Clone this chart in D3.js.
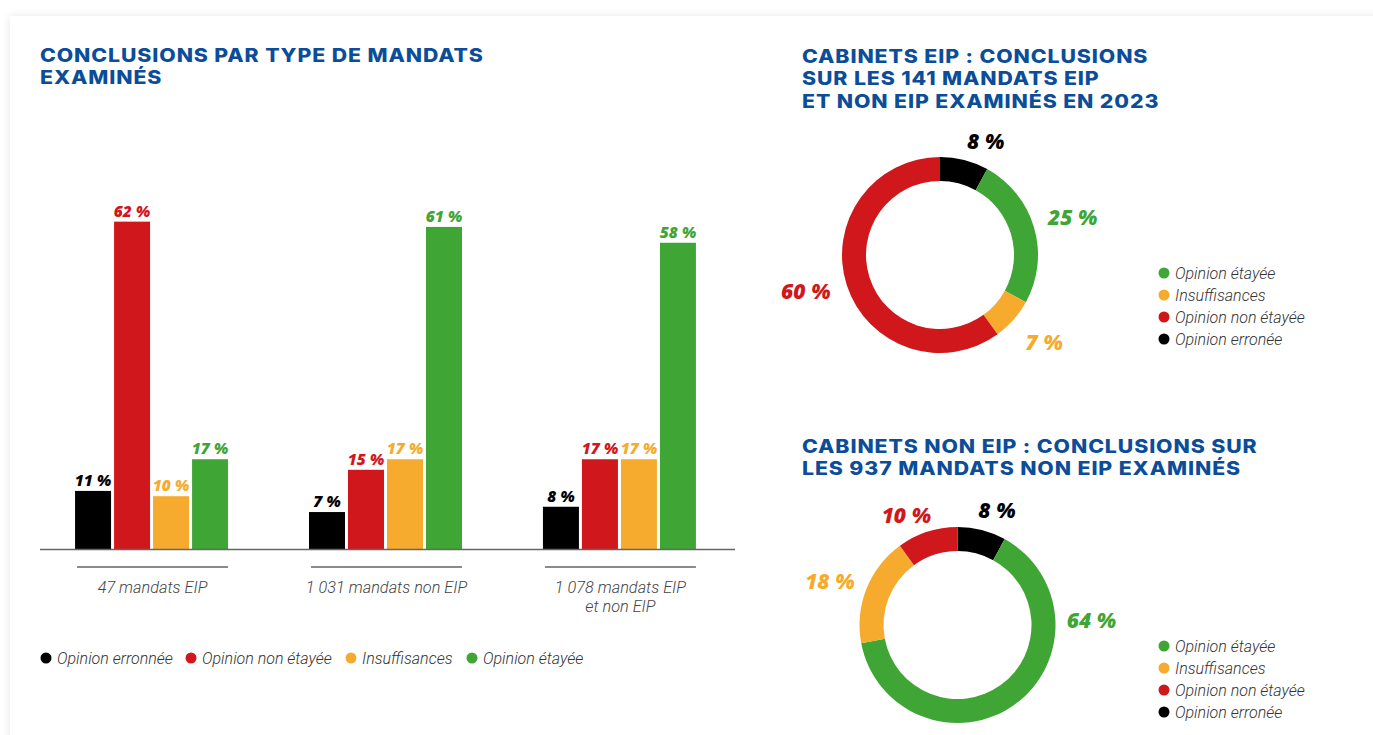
<!DOCTYPE html>
<html lang="fr">
<head>
<meta charset="utf-8">
<script src="https://cdn.jsdelivr.net/npm/d3@7"></script>
<style>
  html, body { margin: 0; padding: 0; background: #ffffff; overflow: hidden; }
  #card {
    position: absolute; left: 10px; top: 16px; width: 1400px; height: 760px;
    background: #fff; box-shadow: 0 0 9px rgba(0,0,0,0.10);
  }
  svg { position: absolute; left: 0; top: 0; }
  .title { font-family: Inter, "Open Sans", sans-serif; font-weight: 800; fill: #0b4d98; font-size: 18.5px; letter-spacing: 0.8px; }
  .barval { font-family: "Open Sans", "Inter", sans-serif; font-weight: 800; font-style: italic; font-size: 15.5px; }
  .cat { font-family: Roboto, sans-serif; font-weight: 300; font-style: italic; font-size: 16.3px; fill: #444; }
  .leg { font-family: Roboto, sans-serif; font-weight: 300; font-style: italic; font-size: 16px; fill: #333; }
  .pieval { font-family: "Open Sans", "Inter", sans-serif; font-weight: 800; font-style: italic; font-size: 21px; }
</style>
</head>
<body>
<div id="card"></div>
<svg id="chart" width="1373" height="735"></svg>
<script>
// ---- Data -------------------------------------------------------------
const groups = ["47 mandats EIP", "1 031 mandats non EIP", "1 078 mandats EIP|et non EIP"];
const seriesKeys = ["erronee", "nonEtayee", "insuffisances", "etayee"];
const seriesNames = ["Opinion erronnée", "Opinion non étayée", "Insuffisances", "Opinion étayée"];
const erronee = [11, 7, 8];
const nonEtayee = [62, 15, 17];
const insuffisances = [10, 17, 17];
const etayee = [17, 61, 58];

// Donut slices, clockwise from 12 o'clock
const sliceKeys = ["erronee", "etayee", "insuffisances", "nonEtayee"];
const eipShares = [8, 25, 7, 60];
const nonEipShares = [8, 64, 18, 10];

// Legend order used beside the donuts
const donutLegendKeys = ["etayee", "insuffisances", "nonEtayee", "erronee"];
const donutLegendNames = ["Opinion étayée", "Insuffisances", "Opinion non étayée", "Opinion erronée"];

const colors = {
  erronee: "#000000",
  nonEtayee: "#d0181c",
  insuffisances: "#f6ab2e",
  etayee: "#3fa535"
};

const svg = d3.select("#chart");

// ---- Titles (wide display lettering: glyphs stretched horizontally) ---
function title(x, y, lines) {
  const g = svg.append("g").attr("transform", `translate(${x},${y}) scale(1.15,1)`);
  lines.forEach((l, i) => g.append("text").attr("class", "title").attr("x", 0).attr("y", i * 22.5).text(l));
}
title(40, 62, ["CONCLUSIONS PAR TYPE DE MANDATS", "EXAMINÉS"]);
title(802, 63, ["CABINETS EIP : CONCLUSIONS", "SUR LES 141 MANDATS EIP", "ET NON EIP EXAMINÉS EN 2023"]);
title(802, 453, ["CABINETS NON EIP : CONCLUSIONS SUR", "LES 937 MANDATS NON EIP EXAMINÉS"]);

// ---- Grouped bar chart -----------------------------------------------
const seriesValues = { erronee, nonEtayee, insuffisances, etayee };
const rows = groups.map((g, i) => ({ group: g, values: seriesKeys.map(k => ({ key: k, v: seriesValues[k][i] })) }));

const x0 = d3.scaleBand().domain(groups).range([36, 735]).paddingInner(0.346).paddingOuter(0.167);
const x1 = d3.scaleBand().domain(seriesKeys).range([0, x0.bandwidth()]).paddingInner(0.077).paddingOuter(0);
const y = d3.scaleLinear().domain([0, 100]).range([549, 21]);

const gBars = svg.append("g");
const grp = gBars.selectAll("g.grp").data(rows).join("g")
  .attr("class", "grp")
  .attr("transform", d => `translate(${x0(d.group)},0)`);

grp.selectAll("rect").data(d => d.values).join("rect")
  .attr("x", d => x1(d.key))
  .attr("width", x1.bandwidth())
  .attr("y", d => y(d.v))
  .attr("height", d => y(0) - y(d.v))
  .attr("fill", d => colors[d.key]);

grp.selectAll("text.barval").data(d => d.values).join("text")
  .attr("class", "barval")
  .attr("x", d => x1(d.key) + x1.bandwidth() / 2)
  .attr("y", d => y(d.v) - 5)
  .attr("text-anchor", "middle")
  .attr("fill", d => colors[d.key])
  .text(d => `${d.v} %`);

// baseline
svg.append("line")
  .attr("x1", 40).attr("x2", 735)
  .attr("y1", y(0) + 0.5).attr("y2", y(0) + 0.5)
  .attr("stroke", "#666").attr("stroke-width", 1.5);

// category rules and labels
const cats = svg.append("g").selectAll("g").data(groups).join("g")
  .attr("transform", d => `translate(${x0(d)},0)`);
cats.append("line")
  .attr("x1", 2).attr("x2", x0.bandwidth())
  .attr("y1", 567).attr("y2", 567)
  .attr("stroke", "#8a8a8a").attr("stroke-width", 2);
cats.append("text").attr("class", "cat")
  .attr("text-anchor", "middle")
  .attr("y", 593)
  .each(function (d) {
    const t = d3.select(this);
    d.split("|").forEach((l, i) => t.append("tspan").attr("x", x0.bandwidth() / 2 + 1).attr("dy", i ? 19 : 0).text(l));
  });

// bottom legend
const legX = [46, 191, 351, 472];
const leg = svg.append("g").selectAll("g").data(seriesKeys).join("g")
  .attr("transform", (d, i) => `translate(${legX[i]},658)`);
leg.append("circle").attr("r", 5.5).attr("fill", d => colors[d]);
leg.append("text").attr("class", "leg").attr("x", 11).attr("y", 5.5)
  .text((d, i) => seriesNames[i]);

// ---- Donuts -----------------------------------------------------------
const pie = d3.pie().sort(null).value(d => d.v);
const arc = d3.arc().innerRadius(74).outerRadius(98);

// label placement around each ring: angle (deg, clockwise from top) and distance
const eipLabelSpots = [[22, 122], [74, 138], [130, 136], [255, 139]];
const nonEipLabelSpots = [[19, 121], [88, 134], [289, 135], [335, 121]];

function donut(cx, cy, shares, spots, legendY) {
  const data = pie(sliceKeys.map((k, i) => ({ key: k, v: shares[i] })));
  const g = svg.append("g").attr("transform", `translate(${cx},${cy})`);
  g.selectAll("path").data(data).join("path")
    .attr("d", arc)
    .attr("fill", d => colors[d.data.key]);
  g.selectAll("text").data(data).join("text")
    .attr("class", "pieval")
    .attr("text-anchor", "middle")
    .attr("dy", "0.36em")
    .attr("x", (d, i) => spots[i][1] * Math.sin(spots[i][0] * Math.PI / 180))
    .attr("y", (d, i) => -spots[i][1] * Math.cos(spots[i][0] * Math.PI / 180))
    .attr("fill", d => colors[d.data.key])
    .text(d => `${d.data.v} %`);

  const lg = svg.append("g").selectAll("g").data(donutLegendKeys).join("g")
    .attr("transform", (d, i) => `translate(1164,${legendY + i * 22})`);
  lg.append("circle").attr("r", 5.5).attr("fill", d => colors[d]);
  lg.append("text").attr("class", "leg").attr("x", 11).attr("y", 5.5)
    .text((d, i) => donutLegendNames[i]);
}

donut(940, 255, eipShares, eipLabelSpots, 273);
donut(957.5, 625, nonEipShares, nonEipLabelSpots, 646);
</script>
</body>
</html>
